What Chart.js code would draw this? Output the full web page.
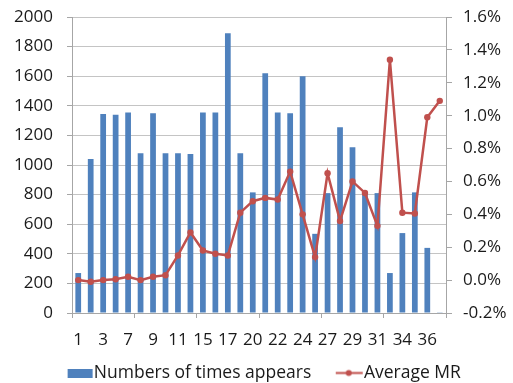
<!DOCTYPE html>
<html>
<head>
<meta charset="utf-8">
<script src="https://cdn.jsdelivr.net/npm/chart.js@4/dist/chart.umd.min.js"></script>
<style>
  html, body { margin: 0; padding: 0; background: #ffffff; }
  #wrap { width: 513px; height: 383px; }
</style>
</head>
<body>
<div id="wrap"><canvas id="chart" width="513" height="383"></canvas></div>
<script>
// Category keys along the x axis (every other one is labelled)
const categories = ['1','2','3','5','7','8','9','10','11','13','15','16','17','18','20',
                    '21','22','23','24','25','27','28','29','30','31','33','34','35','36','37'];

// Bar series: how many times each value appears
const timesAppears = [270, 1040, 1345, 1340, 1355, 1080, 1350, 1080, 1080, 1075,
                      1355, 1355, 1890, 1080, 815, 1620, 1355, 1350, 1600, 535,
                      810, 1255, 1120, 810, 810, 270, 540, 815, 440, 5];

// Line series: average MR, in percent
const averageMR = [0.00, -0.01, 0.00, 0.005, 0.02, 0.00, 0.02, 0.03, 0.15, 0.29,
                   0.18, 0.16, 0.15, 0.41, 0.48, 0.50, 0.49, 0.66, 0.40, 0.14,
                   0.65, 0.36, 0.60, 0.53, 0.33, 1.34, 0.41, 0.405, 0.99, 1.09];

// Axis tick ranges
const countTicks = { min: 0, max: 2000, step: 200 };
const mrTicks = { min: -0.2, max: 1.6, step: 0.2 };

const BLUE = '#4F81BD';
const RED = '#C0504D';
const GRID = '#c4c4c4';
const AXIS = '#a6a6a6';
const TEXT = '#1a1a1a';
const FONT = { family: '"Open Sans", sans-serif', size: 17 };
const LEGEND_FONT = { family: '"Open Sans", sans-serif', size: 17.5 };

// Legend swatches: a blue block and a red line with a marker
function barSwatch() {
  const c = document.createElement('canvas');
  c.width = 50; c.height = 9;
  const g = c.getContext('2d');
  g.fillStyle = BLUE;
  g.fillRect(24, 0, 25, 9);
  return c;
}
function lineSwatch() {
  const c = document.createElement('canvas');
  c.width = 50; c.height = 9;
  const g = c.getContext('2d');
  g.strokeStyle = RED;
  g.lineWidth = 2;
  g.beginPath(); g.moveTo(22, 4.5); g.lineTo(49, 4.5); g.stroke();
  g.fillStyle = RED;
  g.beginPath(); g.arc(35, 4.5, 3, 0, Math.PI * 2); g.fill();
  return c;
}

new Chart(document.getElementById('chart'), {
  data: {
    labels: categories,
    datasets: [
      {
        type: 'bar',
        label: 'Numbers of times appears',
        data: timesAppears,
        backgroundColor: BLUE,
        borderWidth: 0,
        yAxisID: 'yCount',
        categoryPercentage: 1.0,
        barPercentage: 0.46,
        order: 2
      },
      {
        type: 'line',
        label: 'Average MR',
        data: averageMR,
        borderColor: RED,
        backgroundColor: RED,
        borderWidth: 2.5,
        pointRadius: 3.2,
        pointBackgroundColor: RED,
        pointBorderWidth: 0,
        tension: 0,
        yAxisID: 'yMR',
        order: 1
      }
    ]
  },
  options: {
    responsive: false,
    animation: false,
    devicePixelRatio: 1,
    layout: { padding: { left: 0, top: 17, right: 0, bottom: 0 } },
    plugins: {
      tooltip: { enabled: false },
      legend: {
        position: 'bottom',
        align: 'center',
        maxHeight: 29.75,
        labels: {
          font: LEGEND_FONT,
          color: TEXT,
          padding: 11,
          usePointStyle: true,
          pointStyleWidth: 33,
          boxHeight: 9,
          sort: (a, b) => a.datasetIndex - b.datasetIndex,
          generateLabels: (chart) => chart.data.datasets.map((ds, i) => ({
            text: ds.label,
            datasetIndex: i,
            pointStyle: ds.type === 'bar' ? barSwatch() : lineSwatch(),
            fillStyle: ds.backgroundColor,
            strokeStyle: ds.borderColor,
            lineWidth: 0,
            hidden: false,
            fontColor: TEXT
          }))
        }
      }
    },
    scales: {
      x: {
        type: 'category',
        offset: true,
        afterFit: (s) => { s.height = 40.25; s.paddingLeft = 0; s.paddingRight = 0; },
        border: { display: true, color: AXIS, width: 1 },
        grid: {
          offset: true,
          drawOnChartArea: false,
          drawTicks: true,
          tickLength: 5,
          color: (ctx) => (ctx.index === undefined || ctx.index % 5 === 0) ? AXIS : 'rgba(0,0,0,0)'
        },
        ticks: {
          autoSkip: false,
          maxRotation: 0,
          minRotation: 0,
          padding: 12,
          font: FONT,
          color: TEXT,
          callback: (v, i) => (i % 2 === 0 ? categories[i] : '')
        }
      },
      yCount: {
        type: 'linear',
        position: 'left',
        min: countTicks.min,
        max: countTicks.max,
        afterFit: (s) => { s.width = 72; s.paddingTop = 0; s.paddingBottom = 0; },
        border: { display: true, color: AXIS, width: 1 },
        grid: { color: GRID, tickColor: AXIS, tickLength: 5, lineWidth: 1 },
        ticks: {
          stepSize: countTicks.step,
          padding: 14,
          font: FONT,
          color: TEXT,
          callback: (v) => String(v)
        }
      },
      yMR: {
        type: 'linear',
        position: 'right',
        min: mrTicks.min,
        max: mrTicks.max,
        afterFit: (s) => { s.width = 67; s.paddingTop = 0; s.paddingBottom = 0; },
        border: { display: true, color: AXIS, width: 1 },
        grid: { drawOnChartArea: false, color: AXIS, tickLength: 6 },
        ticks: {
          stepSize: mrTicks.step,
          padding: 11,
          font: FONT,
          color: TEXT,
          callback: (v) => (Math.round(v * 10) / 10).toFixed(1) + '%'
        }
      }
    }
  }
});
</script>
</body>
</html>
